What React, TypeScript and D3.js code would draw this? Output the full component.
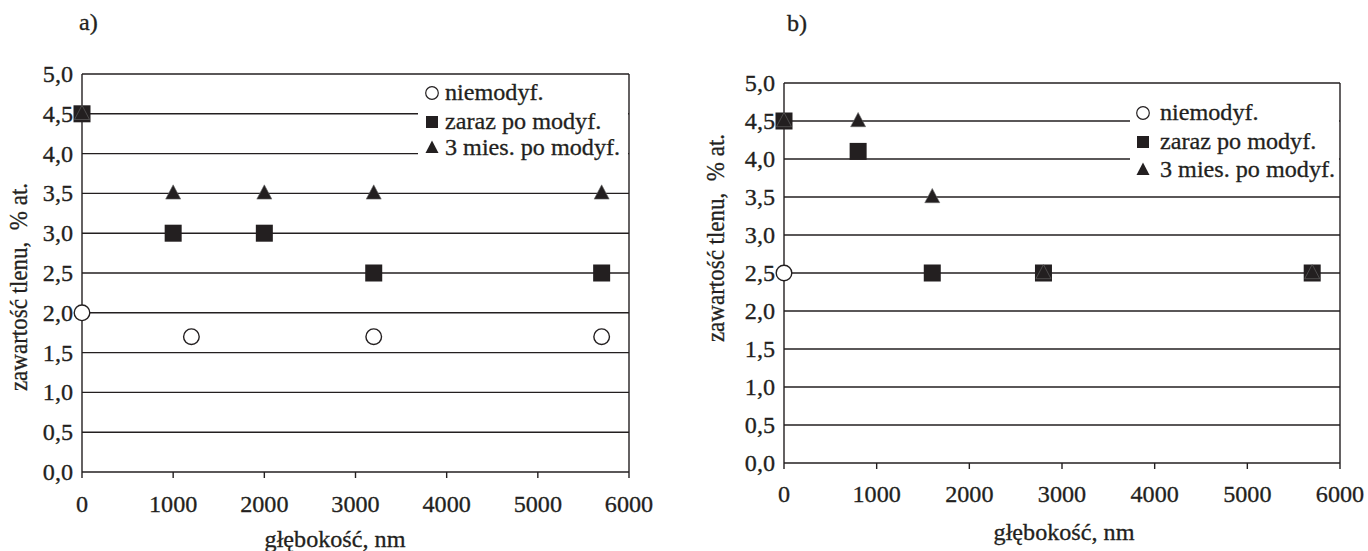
import React from "react";
import * as d3 from "d3";

// ---- data ----
const xTicks = [0, 1000, 2000, 3000, 4000, 5000, 6000];
const yTicks = [0, 0.5, 1, 1.5, 2, 2.5, 3, 3.5, 4, 4.5, 5];
const seriesNames = ["niemodyf.", "zaraz po modyf.", "3 mies. po modyf."];

// chart a)
const aNiemodX = [0, 1200, 3200, 5700];
const aNiemodY = [2.0, 1.7, 1.7, 1.7];
const aZarazX = [0, 1000, 2000, 3200, 5700];
const aZarazY = [4.5, 3.0, 3.0, 2.5, 2.5];
const aMiesX = [0, 1000, 2000, 3200, 5700];
const aMiesY = [4.5, 3.5, 3.5, 3.5, 3.5];

// chart b)
const bNiemodX = [0];
const bNiemodY = [2.5];
const bZarazX = [0, 800, 1600, 2800, 5700];
const bZarazY = [4.5, 4.1, 2.5, 2.5, 2.5];
const bMiesX = [0, 800, 1600, 2800, 5700];
const bMiesY = [4.5, 4.5, 3.5, 2.5, 2.5];

const INK = "#231f20";
const FONT = "'Liberation Serif'";
const FS = 23;
const SX = 1.05;

const fmtY = (v: number) => v.toFixed(1).replace(".", ",");

type Pt = { x: number; y: number };
const zip = (xs: number[], ys: number[]): Pt[] => xs.map((x, i) => ({ x, y: ys[i] }));

function HText(props: { x: number; y: number; anchor?: string; children: React.ReactNode }) {
  return (
    <text
      transform={`translate(${props.x},${props.y}) scale(${SX},1)`}
      textAnchor={props.anchor || "start"}
      style={{ fontFamily: FONT, fontSize: FS }}
      fill={INK}
      stroke={INK}
      strokeWidth={0.3}
    >
      {props.children}
    </text>
  );
}

const triPath = (cx: number, cy: number, s: number) => {
  const h = s * 0.95;
  return `M${cx},${cy - h * 0.6}L${cx + s / 2},${cy + h * 0.4}L${cx - s / 2},${cy + h * 0.4}Z`;
};

function Panel(props: {
  title: string;
  titleX: number;
  titleY: number;
  left: number;
  right: number;
  top: number;
  bottom: number;
  niemod: Pt[];
  zaraz: Pt[];
  mies: Pt[];
  ylabX: number;
  ylabY: number;
  xlabX: number;
  xlabY: number;
  tickLabOff: number;
  legend: { x0: number; x1: number; y0: number; y1: number; mx: number; tx: number; rows: number[] };
}) {
  const x = d3.scaleLinear().domain([0, 6000]).range([props.left, props.right]);
  const y = d3.scaleLinear().domain([0, 5]).range([props.bottom, props.top]);
  const L = props.legend;
  return (
    <g>
      <HText x={props.titleX} y={props.titleY}>{props.title}</HText>
      {/* gridlines */}
      {yTicks.map((t) => (
        <line key={"g" + t} x1={x(0)} x2={x(6000)} y1={y(t)} y2={y(t)} stroke={INK} strokeWidth={1.4} />
      ))}
      {/* axes / border */}
      <line x1={x(0)} x2={x(0)} y1={y(0)} y2={y(5)} stroke={INK} strokeWidth={1.4} />
      <line x1={x(6000)} x2={x(6000)} y1={y(0)} y2={y(5)} stroke={INK} strokeWidth={1.4} />
      {xTicks.map((t) => (
        <line key={"xt" + t} x1={x(t)} x2={x(t)} y1={y(0)} y2={y(0) + 6} stroke={INK} strokeWidth={1.4} />
      ))}
      {xTicks.map((t) => (
        <HText key={"xl" + t} x={x(t)} y={y(0) + props.tickLabOff} anchor="middle">{String(t)}</HText>
      ))}
      {yTicks.map((t) => (
        <HText key={"yl" + t} x={x(0) - 9} y={y(t) + 8} anchor="end">{fmtY(t)}</HText>
      ))}
      <HText x={props.xlabX} y={props.xlabY} anchor="middle">głębokość, nm</HText>
      <text
        transform={`translate(${props.ylabX},${props.ylabY}) rotate(-90) scale(1,${SX})`}
        textAnchor="middle"
        fill={INK}
        stroke={INK}
        strokeWidth={0.3}
        style={{ whiteSpace: "pre", fontFamily: FONT, fontSize: FS }}
      >
        {"zawartość tlenu,  % at."}
      </text>
      {/* legend */}
      <rect x={L.x0} y={L.y0} width={L.x1 - L.x0} height={L.y1 - L.y0} fill="#fff" />
      <circle cx={L.mx} cy={L.rows[0]} r={6.3} fill="#fff" stroke={INK} strokeWidth={1.2} />
      <rect x={L.mx - 6} y={L.rows[1] - 6} width={12} height={12} fill={INK} />
      <path d={triPath(L.mx, L.rows[2], 13)} fill={INK} />
      {seriesNames.map((n, i) => (
        <HText key={n} x={L.tx} y={L.rows[i] + 7}>{n}</HText>
      ))}
      {/* markers */}
      {props.mies.map((p, i) => (
        <path key={"m" + i} d={triPath(x(p.x), y(p.y), 15)} fill={INK} />
      ))}
      {props.zaraz.map((p, i) => (
        <rect key={"z" + i} x={x(p.x) - 8.5} y={y(p.y) - 8.5} width={17} height={17} fill={INK} />
      ))}
      {props.mies.map((p, i) => (
        <path key={"mo" + i} d={triPath(x(p.x), y(p.y), 15)} fill="none" stroke="#6a6a6a" strokeWidth={0.6} />
      ))}
      {props.niemod.map((p, i) => (
        <circle key={"n" + i} cx={x(p.x)} cy={y(p.y)} r={7.8} fill="#fff" stroke={INK} strokeWidth={1.4} />
      ))}
    </g>
  );
}

export default function App() {
  return (
    <svg
      width={1368}
      height={551}
      style={{ position: "absolute", left: 0, top: 0, background: "#fff" }}
    >
      <rect x={0} y={0} width={1368} height={551} fill="#fff" />
      <Panel
        title="a)"
        titleX={79}
        titleY={30}
        left={82}
        right={629}
        top={74}
        bottom={472}
        niemod={zip(aNiemodX, aNiemodY)}
        zaraz={zip(aZarazX, aZarazY)}
        mies={zip(aMiesX, aMiesY)}
        ylabX={27}
        ylabY={287}
        xlabX={335}
        xlabY={547}
        tickLabOff={40}
        legend={{ x0: 418, x1: 628, y0: 80, y1: 163, mx: 432, tx: 445, rows: [93, 122, 148] }}
      />
      <Panel
        title="b)"
        titleX={787}
        titleY={31}
        left={784}
        right={1340}
        top={83}
        bottom={463}
        niemod={zip(bNiemodX, bNiemodY)}
        zaraz={zip(bZarazX, bZarazY)}
        mies={zip(bMiesX, bMiesY)}
        ylabX={724}
        ylabY={238}
        xlabX={1064}
        xlabY={540}
        tickLabOff={39}
        legend={{ x0: 1130, x1: 1339, y0: 98, y1: 185, mx: 1143, tx: 1160, rows: [113, 142, 170] }}
      />
    </svg>
  );
}
